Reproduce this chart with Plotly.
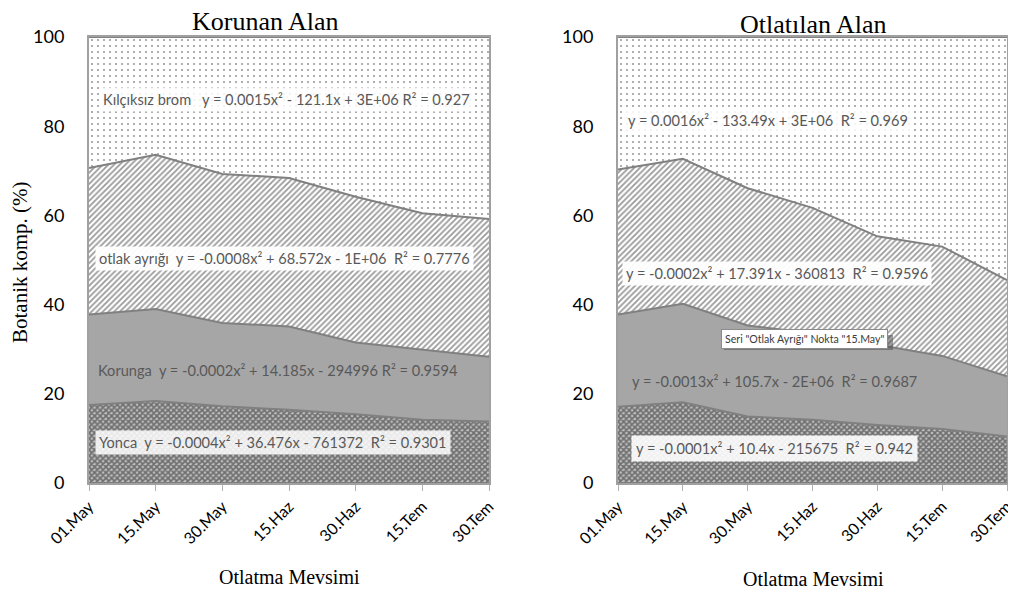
import plotly.graph_objects as go

# ---------------- data ----------------
dates = ["01.May", "15.May", "30.May", "15.Haz", "30.Haz", "15.Tem", "30.Tem"]

# Korunan Alan (protected) - component percentages (stacked)
kor_yonca   = [17.5, 18.4, 17.2, 16.4, 15.4, 14.2, 13.8]
kor_korunga = [20.3, 20.6, 18.7, 18.7, 16.1, 15.7, 14.5]
kor_otlak   = [32.8, 34.6, 33.4, 33.3, 32.7, 30.6, 30.9]
kor_brom    = [29.4, 26.4, 30.7, 31.6, 35.8, 39.5, 40.8]

# Otlatılan Alan (grazed) - component percentages (stacked)
otl_yonca   = [17.1, 18.1, 14.9, 14.2, 13.0, 12.1, 10.4]
otl_korunga = [20.7, 22.1, 20.4, 19.4, 18.0, 16.4, 13.5]
otl_otlak   = [32.5, 32.5, 30.8, 28.1, 24.3, 24.5, 21.6]
otl_brom    = [29.7, 27.3, 33.9, 38.3, 44.7, 47.0, 54.5]

y_ticks = [0, 20, 40, 60, 80, 100]

kor_labels = [
    "Yonca  y = -0.0004x² + 36.476x - 761372  R² = 0.9301",
    "Korunga  y = -0.0002x² + 14.185x - 294996 R² = 0.9594",
    "otlak ayrığı  y = -0.0008x² + 68.572x - 1E+06  R² = 0.7776",
    "Kılçıksız brom   y = 0.0015x² - 121.1x + 3E+06 R² = 0.927",
]
otl_labels = [
    "y = -0.0001x² + 10.4x - 215675  R² = 0.942",
    "y = -0.0013x² + 105.7x - 2E+06  R² = 0.9687",
    "y = -0.0002x² + 17.391x - 360813  R² = 0.9596",
    "y = 0.0016x² - 133.49x + 3E+06  R² = 0.969",
]
tooltip_text = 'Seri "Otlak Ayrığı" Nokta "15.May"'

# ---------------- layout helpers ----------------
# the page body adds an 8px margin; the figure fills the rest of the window
OFF = 8
W, H = 1016 - OFF, 592 - OFF
def fx(px):
    return (px - OFF) / W
def fy(py):
    return 1 - (py - OFF) / H

LINE = "#808080"
styles = [
    dict(fillpattern=dict(shape="x", size=4, solidity=0.65, fgcolor="#1e1e1e", bgcolor="#bdbdbd")),
    dict(fillcolor="#a6a6a6"),
    dict(fillpattern=dict(shape="/", size=4, solidity=0.45, fgcolor="#333333", bgcolor="#ffffff")),
    dict(fillpattern=dict(shape=".", size=6, solidity=0.09, fgcolor="#2a2a2a", bgcolor="#ffffff")),
]

fig = go.Figure()

def add_stack(series, xa, ya, grp):
    for vals, st in zip(series, styles):
        fig.add_trace(go.Scatter(
            x=dates, y=vals, mode="lines", stackgroup=grp,
            line=dict(color=LINE, width=2),
            xaxis=xa, yaxis=ya, showlegend=False, hoverinfo="skip", **st))

add_stack([kor_yonca, kor_korunga, kor_otlak, kor_brom], "x", "y", "kor")
add_stack([otl_yonca, otl_korunga, otl_otlak, otl_brom], "x2", "y2", "otl")

tick_font = dict(family="Lato, Open Sans, sans-serif", size=18, color="#000000")
xtick_font = dict(family="Lato, Open Sans, sans-serif", size=16, color="#000000")

xcommon = dict(type="category", range=[0, 6], showgrid=False, ticks="outside",
               ticklen=6, tickcolor="#b0b0b0", tickwidth=1, tickangle=-45,
               tickfont=xtick_font, showline=True, linecolor="#a0a0a0",
               linewidth=2, mirror=True, zeroline=False, automargin=False)
ycommon = dict(range=[0, 100], tickvals=y_ticks, showgrid=False, ticks="",
               tickfont=tick_font, showline=True, linecolor="#a0a0a0",
               linewidth=2, mirror=True, zeroline=False, ticklabelstandoff=19,
               automargin=False)

ydom = [fy(483), fy(37)]
fig.update_layout(
    width=W, height=H, autosize=False,
    margin=dict(l=0, r=0, t=0, b=0),
    paper_bgcolor="white", plot_bgcolor="white",
    xaxis=dict(domain=[fx(89), fx(489)], anchor="y", **xcommon),
    yaxis=dict(domain=ydom, anchor="x", **ycommon),
    xaxis2=dict(domain=[fx(618), fx(1007)], anchor="y2", **xcommon),
    yaxis2=dict(domain=ydom, anchor="x2", **ycommon),
)

serif = "Liberation Serif, Times New Roman, serif"
ann = []
def text(x, y, t, size, family=serif, color="#000000", **kw):
    ann.append(dict(x=fx(x), y=fy(y), xref="paper", yref="paper", text=t,
                    showarrow=False, font=dict(family=family, size=size, color=color),
                    xanchor="center", yanchor="middle", **kw))

# titles
text(265, 22, "Korunan Alan", 26)
text(813, 25, "Otlatılan Alan", 26)
text(289, 577, "Otlatma Mevsimi", 20)
text(813, 579, "Otlatma Mevsimi", 20)
ann.append(dict(x=fx(20), y=fy(262), xref="paper", yref="paper", text="Botanik komp. (%)",
                showarrow=False, textangle=-90,
                font=dict(family=serif, size=21, color="#000000"),
                xanchor="center", yanchor="middle"))

eq_font = "Lato, Open Sans, sans-serif"
EQ = "#595959"
ES = 14.6
# left equations
text(286, 100, kor_labels[3], ES, eq_font, EQ, bgcolor="rgba(255,255,255,0.85)", borderpad=3)
text(284, 258, kor_labels[2], ES, eq_font, EQ, bgcolor="rgba(255,255,255,0.95)", borderpad=3)
text(278, 370, kor_labels[1], ES, eq_font, EQ)
text(273, 442, kor_labels[0], ES, eq_font, EQ, bgcolor="rgba(255,255,255,0.85)", borderpad=3)
# right equations
text(768, 120, otl_labels[3], ES, eq_font, EQ, bgcolor="rgba(255,255,255,0.85)", borderpad=3)
text(777, 274, otl_labels[2], ES, eq_font, EQ, bgcolor="rgba(255,255,255,0.95)", borderpad=3)
text(774, 381, otl_labels[1], ES, eq_font, EQ)
text(774, 448, otl_labels[0], ES, eq_font, EQ, bgcolor="rgba(255,255,255,0.9)", borderpad=4)
# tooltip
ann.append(dict(x=fx(804.5), y=fy(339), xref="paper", yref="paper", text=tooltip_text,
                showarrow=False, font=dict(family=eq_font, size=10.6, color="#3c3c3c"),
                bgcolor="#ffffff", bordercolor="#8c8c8c", borderwidth=1, borderpad=3,
                xanchor="center", yanchor="middle"))

# tooltip drop shadow (decoration)
shapes = [dict(type="rect", xref="paper", yref="paper",
               x0=fx(724), x1=fx(893), y0=fy(350), y1=fy(335),
               fillcolor="rgba(80,80,80,0.55)", line=dict(width=0), layer="above")]

fig.update_layout(annotations=ann, shapes=shapes)
fig.write_html("out.html")
